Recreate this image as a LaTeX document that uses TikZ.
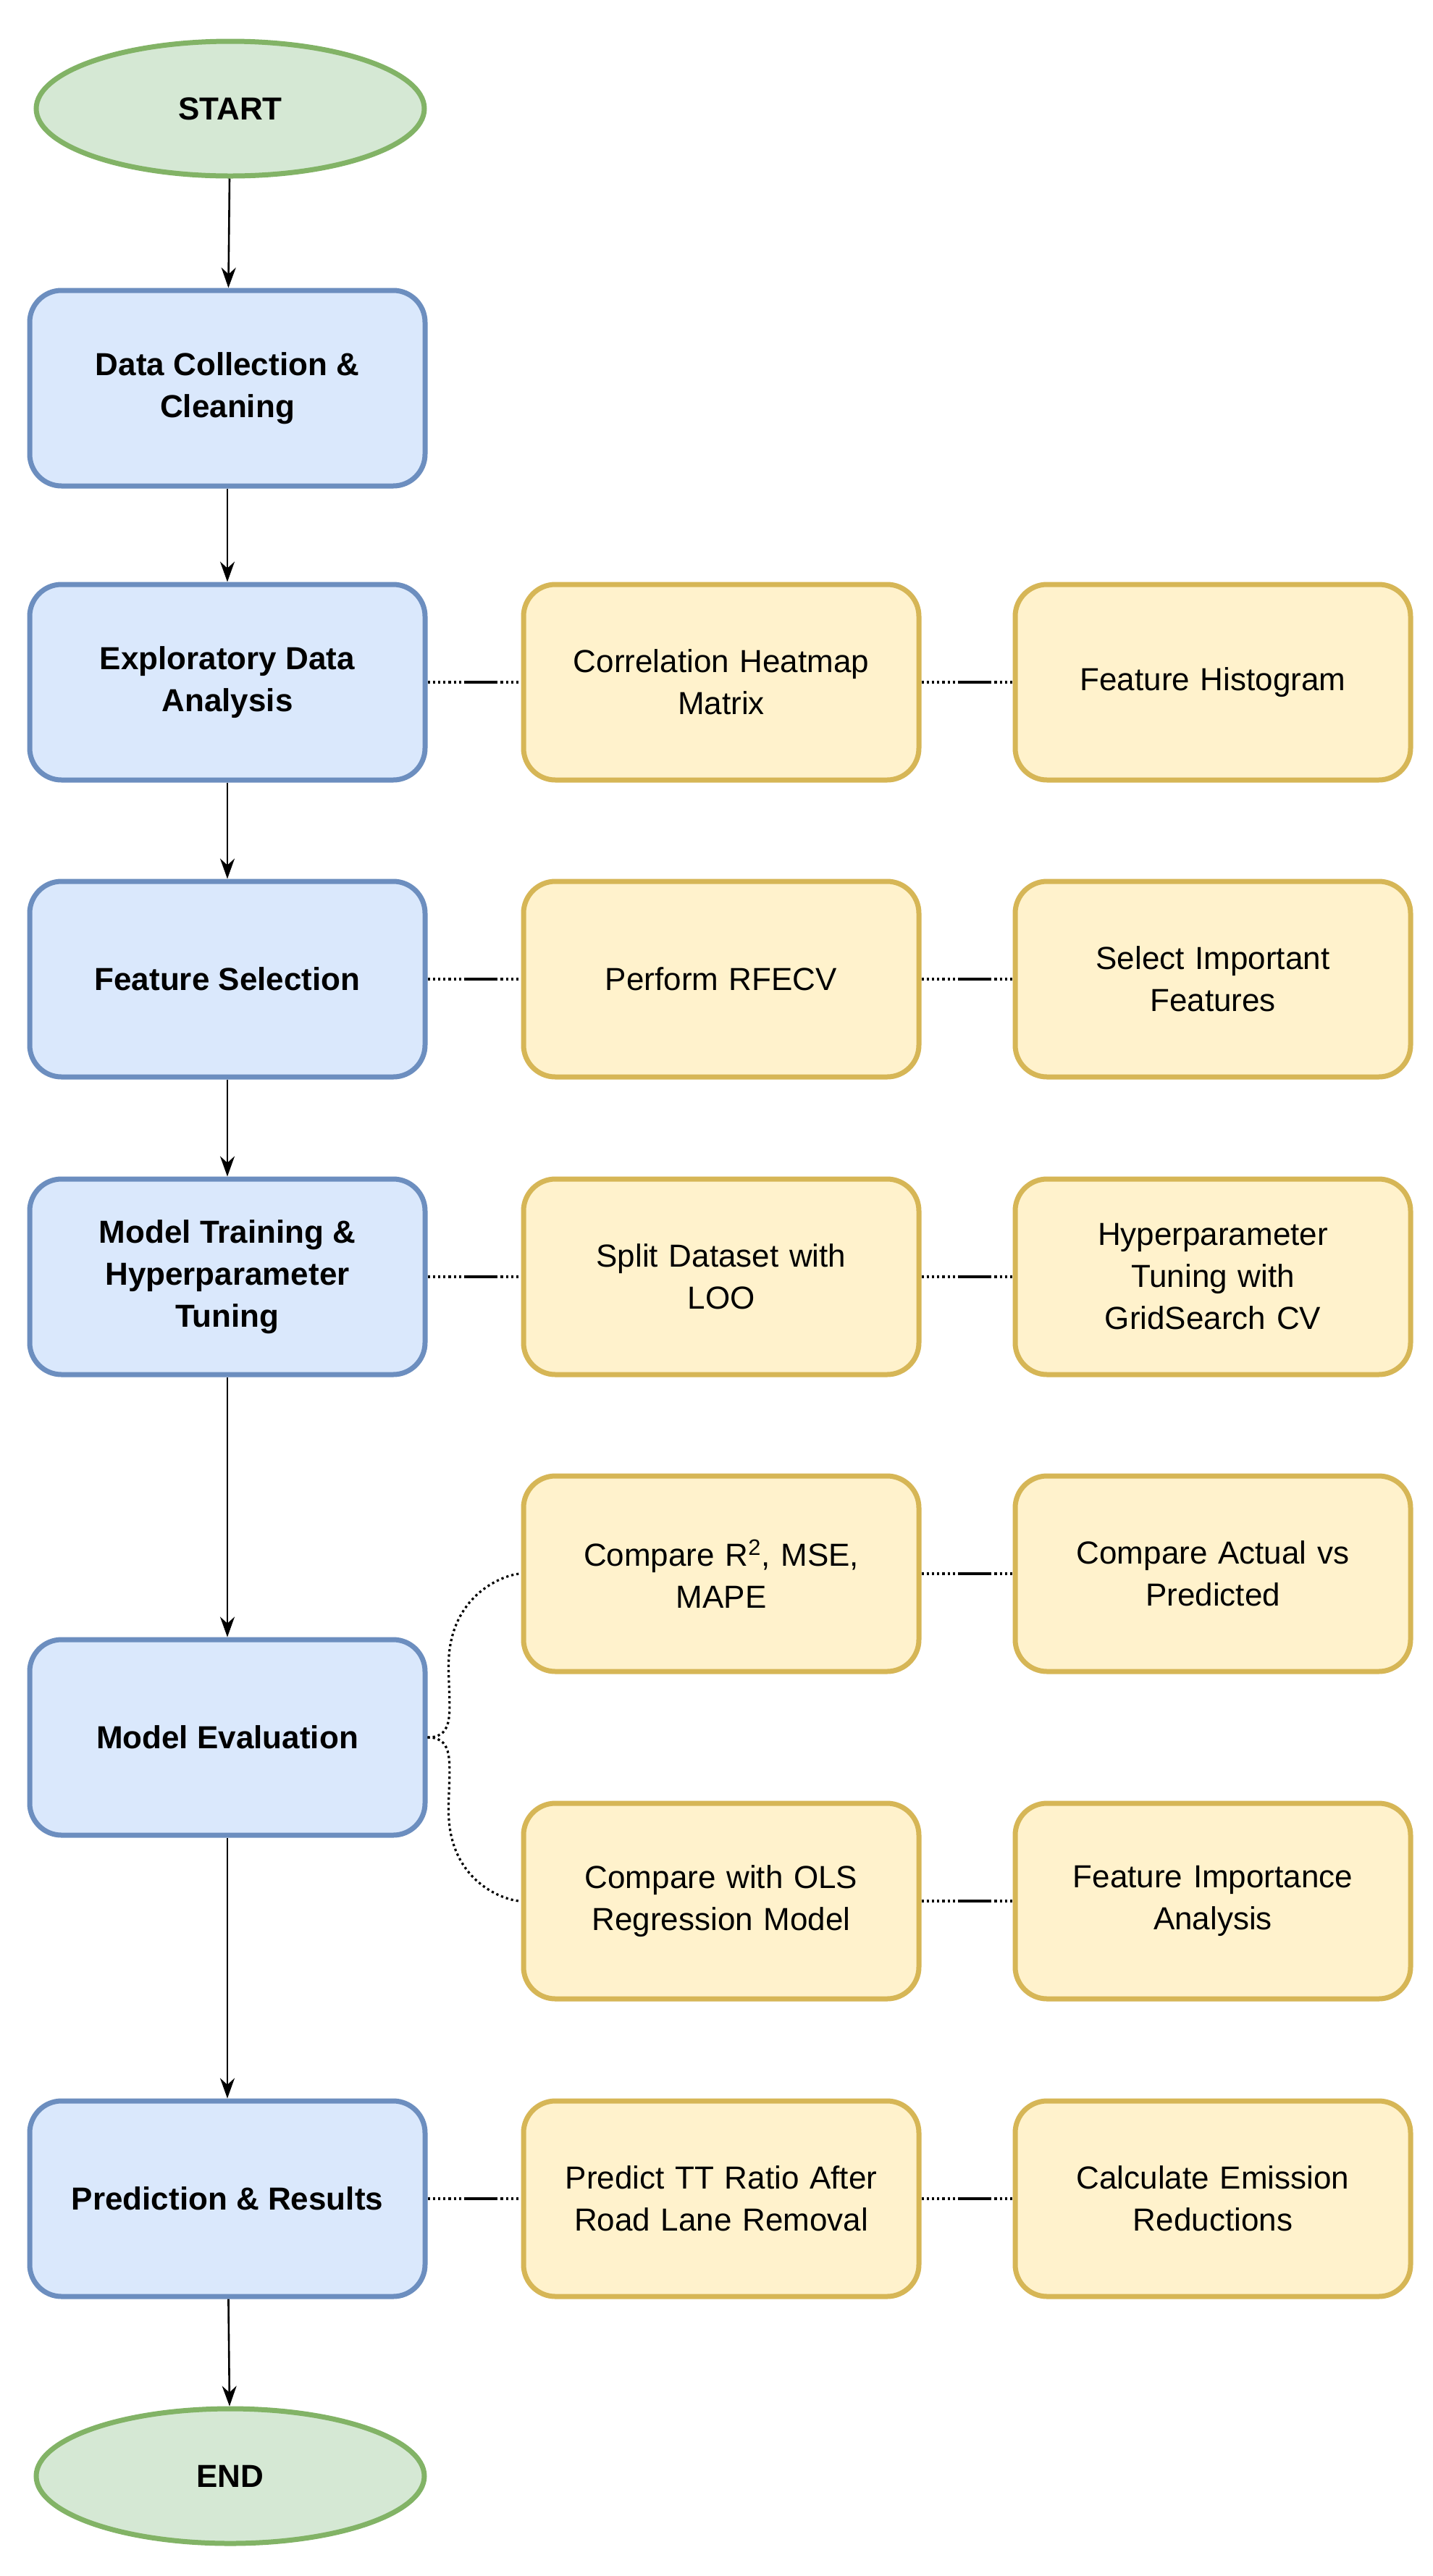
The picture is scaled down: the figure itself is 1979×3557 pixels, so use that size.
\documentclass[tikz,border=0pt]{standalone}
\usepackage{fontspec}
\setmainfont{Liberation Sans}
\usetikzlibrary{shapes.geometric,arrows.meta,calc}
\definecolor{bfill}{HTML}{DAE8FC}\definecolor{bdraw}{HTML}{6C8EBF}
\definecolor{yfill}{HTML}{FFF2CC}\definecolor{ydraw}{HTML}{D6B656}
\definecolor{gfill}{HTML}{D5E8D4}\definecolor{gdraw}{HTML}{82B366}
\begin{document}
\begin{tikzpicture}[x=0.5pt,y=-0.5pt,
 blue/.style={draw=bdraw,fill=bfill,line width=3.5pt,rounded corners=22pt,minimum width=273pt,minimum height=135pt,align=center,font=\fontsize{22}{29}\selectfont\bfseries,inner sep=0pt},
 yel/.style={draw=ydraw,fill=yfill,line width=3.5pt,rounded corners=22pt,minimum width=273pt,minimum height=135pt,align=center,font=\fontsize{22}{29}\selectfont,inner sep=0pt,text width=260pt},
 term/.style={ellipse,draw=gdraw,fill=gfill,line width=3.5pt,minimum width=268pt,minimum height=93pt,font=\fontsize{22}{29}\selectfont\bfseries},
 arr/.style={-{Stealth[length=14pt,width=10pt]},line width=1.3pt},
 dot/.style={dotted,line width=1.6pt}]
\useasboundingbox (0,0) rectangle (1979,3557);
\node[term] (start) at (318,150) {START};
\node[blue] (dc) at (314,536) {Data Collection \&\\Cleaning};
\node[blue] (eda) at (314,942) {Exploratory Data\\Analysis};
\node[blue] (fs) at (314,1352) {Feature Selection};
\node[blue] (mt) at (314,1763) {Model Training \&\\Hyperparameter\\Tuning};
\node[blue] (me) at (314,2399) {Model Evaluation};
\node[blue] (pr) at (314,3036) {Prediction \& Results};
\node[term] (end) at (318,3419) {END};
\node[yel] (a1) at (996,942) {Correlation Heatmap\\Matrix};
\node[yel] (a2) at (1675,942) {Feature Histogram};
\node[yel] (b1) at (996,1352) {Perform RFECV};
\node[yel] (b2) at (1675,1352) {Select Important\\Features};
\node[yel] (c1) at (996,1763) {Split Dataset with\\LOO};
\node[yel] (c2) at (1675,1763) {Hyperparameter\\Tuning with\\GridSearch CV};
\node[yel] (d1) at (996,2173) {Compare R\textsuperscript{2}, MSE,\\MAPE};
\node[yel] (d2) at (1675,2173) {Compare Actual vs\\Predicted};
\node[yel] (e1) at (996,2625) {Compare with OLS\\Regression Model};
\node[yel] (e2) at (1675,2625) {Feature Importance\\Analysis};
\node[yel] (f1) at (996,3036) {Predict TT Ratio After\\Road Lane Removal};
\node[yel] (f2) at (1675,3036) {Calculate Emission\\Reductions};
\draw[arr] (start) -- (dc);
\draw[arr] (dc) -- (eda);
\draw[arr] (eda) -- (fs);
\draw[arr] (fs) -- (mt);
\draw[arr] (mt) -- (me);
\draw[arr] (me) -- (pr);
\draw[arr] (pr) -- (end);
\foreach \p/\q in {eda/a1,a1/a2,fs/b1,b1/b2,mt/c1,c1/c2,d1/d2,e1/e2,pr/f1,f1/f2}{
 \draw[dot] (\p.east) -- (\q.west);
 \draw[line width=2.2pt] ($(\p.east)!0.4!(\q.west)$) -- ($(\p.east)!0.75!(\q.west)$);
}
\draw[dot] (me.east) .. controls +(40,0) and +(0,60) .. ([xshift=-50]d1.west |- 0,2300) .. controls +(0,-100) and +(-20,0) .. (d1.west);
\draw[dot] (me.east) .. controls +(40,0) and +(0,-60) .. ([xshift=-50]e1.west |- 0,2500) .. controls +(0,100) and +(-20,0) .. (e1.west);
\end{tikzpicture}
\end{document}
